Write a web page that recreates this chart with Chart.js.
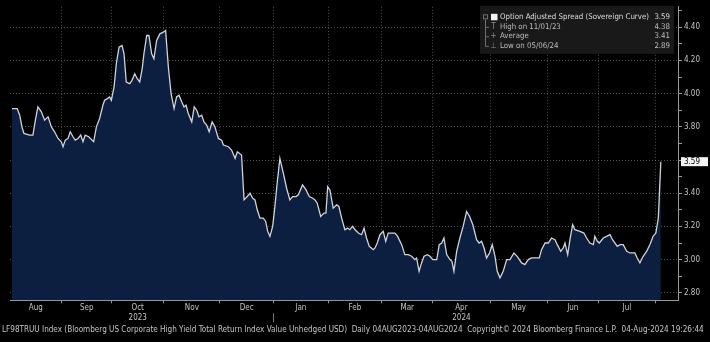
<!DOCTYPE html>
<html>
<head>
<meta charset="utf-8">
<title>LF98TRUU Option Adjusted Spread</title>
<script src="https://cdn.jsdelivr.net/npm/chart.js@4.4.1/dist/chart.umd.min.js"></script>
<style>
  html, body { margin: 0; padding: 0; background: #000; }
  #chart-wrap { width: 710px; height: 342px; }
</style>
</head>
<body>
<div id="chart-wrap"><canvas id="oas-chart" width="710" height="342"></canvas></div>
<script>
// weekdays counted from 04 Aug 2023
const tradingDay = [
  0, 2.1, 3.1, 4.0, 4.8, 7.1, 8.4, 9.4, 10.4, 11.8, 13.1, 14.5, 15.8, 17.1, 18.5, 19.8, 20.5, 21.4, 22.5, 23.4,
  24.5, 25.4, 26.5, 27.6, 28.5, 29.4, 30.8, 32.8, 33.9, 35.2, 36.5, 37.2, 38.3, 39.2, 39.9, 41.0, 41.9, 43.0, 44.2, 45.0,
  45.9, 47.3, 48.2, 49.3, 50.3, 51.3, 52.3, 53.0, 54.1, 55.0, 56.1, 57.0, 58.1, 59.4, 60.8, 61.7, 62.8, 63.9, 65.1, 66.1,
  67.1, 68.2, 69.1, 69.9, 70.8, 72.2, 73.2, 74.2, 75.1, 76.2, 77.1, 78.2, 79.2, 80.4, 81.5, 82.9, 84.2, 84.9, 86.9, 88.2,
  89.6, 90.5, 92.2, 93.2, 94.5, 95.6, 96.7, 97.6, 98.5, 99.6, 100.9, 101.9, 102.7, 103.6, 104.7, 105.6, 106.5, 107.6, 109.0, 110.3,
  111.6, 112.7, 114.1, 115.0, 116.7, 118.1, 119.4, 120.8, 121.7, 122.6, 124.0, 125.3, 126.1, 126.8, 127.7, 129.0, 130.4, 131.3, 132.4, 133.7,
  134.8, 135.7, 136.8, 137.8, 139.1, 140.4, 141.4, 142.4, 143.5, 145.1, 145.8, 146.7, 147.8, 149.1, 150.1, 151.1, 152.5, 153.8, 154.9, 156.5,
  157.8, 159.2, 160.5, 161.8, 162.5, 163.5, 164.5, 165.5, 166.8, 167.9, 169.0, 170.6, 171.6, 172.6, 173.5, 174.6, 175.9, 176.7, 177.5, 178.6,
  179.9, 181.2, 182.6, 183.8, 185.1, 186.6, 187.6, 188.6, 189.6, 190.6, 191.8, 192.9, 194.0, 194.9, 196.0, 197.3, 198.7, 200.0, 201.6, 202.9,
  204.7, 206.0, 207.4, 208.7, 210.0, 211.8, 212.7, 214.1, 215.4, 216.7, 218.1, 219.0, 220.4, 221.4, 222.1, 223.2, 224.1, 225.2, 226.1, 228.1,
  229.7, 230.8, 232.1, 233.5, 234.1, 235.1, 235.9, 237.5, 238.8, 240.2, 241.2, 242.2, 243.1, 244.2, 245.5, 246.9, 248.2, 250.2, 251.1, 252.2,
  253.5, 254.9, 256.2, 257.5, 258.6, 259.6, 260.6
];
const spreadPct = [
  3.91, 3.91, 3.87, 3.80, 3.76, 3.75, 3.75, 3.84, 3.92, 3.89, 3.84, 3.86, 3.80, 3.77, 3.73, 3.71, 3.68, 3.72, 3.73, 3.77,
  3.74, 3.72, 3.73, 3.75, 3.71, 3.75, 3.74, 3.71, 3.80, 3.85, 3.93, 3.96, 3.97, 3.98, 3.96, 4.04, 4.18, 4.28, 4.29, 4.24,
  4.07, 4.06, 4.08, 4.12, 4.09, 4.07, 4.15, 4.24, 4.35, 4.35, 4.24, 4.21, 4.32, 4.36, 4.37, 4.38, 4.16, 4.00, 3.91, 3.98,
  3.99, 3.95, 3.92, 3.93, 3.88, 3.83, 3.92, 3.90, 3.86, 3.87, 3.83, 3.81, 3.77, 3.83, 3.80, 3.73, 3.72, 3.69, 3.68, 3.66,
  3.61, 3.65, 3.63, 3.36, 3.38, 3.40, 3.37, 3.36, 3.30, 3.25, 3.25, 3.23, 3.17, 3.14, 3.20, 3.32, 3.46, 3.61, 3.52, 3.43,
  3.36, 3.38, 3.38, 3.39, 3.45, 3.42, 3.38, 3.37, 3.36, 3.34, 3.26, 3.28, 3.28, 3.44, 3.42, 3.31, 3.33, 3.32, 3.25, 3.18,
  3.19, 3.18, 3.20, 3.18, 3.16, 3.15, 3.19, 3.13, 3.08, 3.06, 3.07, 3.10, 3.15, 3.17, 3.11, 3.16, 3.16, 3.16, 3.14, 3.09,
  3.03, 3.03, 3.02, 3.00, 3.01, 2.93, 2.98, 3.02, 3.03, 3.02, 3.00, 3.00, 3.09, 3.10, 3.13, 3.03, 3.00, 2.99, 2.93, 3.05,
  3.13, 3.20, 3.29, 3.26, 3.21, 3.12, 3.10, 3.11, 3.07, 3.01, 3.04, 3.09, 3.02, 2.93, 2.89, 2.93, 3.00, 3.00, 3.04, 3.02,
  2.98, 2.97, 3.00, 3.01, 3.01, 3.01, 3.06, 3.10, 3.10, 3.13, 3.12, 3.09, 3.05, 3.07, 3.10, 3.03, 3.12, 3.21, 3.18, 3.17,
  3.16, 3.13, 3.10, 3.09, 3.14, 3.11, 3.10, 3.13, 3.14, 3.15, 3.12, 3.10, 3.08, 3.09, 3.09, 3.05, 3.04, 3.04, 3.01, 2.98,
  3.02, 3.05, 3.09, 3.14, 3.16, 3.25, 3.59
];

const monthLabels = ['Aug', 'Sep', 'Oct', 'Nov', 'Dec', 'Jan', 'Feb', 'Mar', 'Apr', 'May', 'Jun', 'Jul'];
// first weekday of Sep 2023 ... Aug 2024
const monthStartDay = [20, 40, 61, 83.5, 105, 127, 148.5, 169, 192, 215, 235.5, 258.5];
const yearLabels = { Oct: '2023', Apr: '2024' };
const yMajorTicks = [2.8, 3.0, 3.2, 3.4, 3.6, 3.8, 4.0, 4.2, 4.4];
const yMinorTicks = [2.9, 3.1, 3.3, 3.5, 3.7, 3.9, 4.1, 4.3, 4.5];

const legendLabels = ['Option Adjusted Spread (Sovereign Curve)', 'High on 11/01/23', 'Average', 'Low on 05/06/24'];
const legendValues = ['3.59', '4.38', '3.41', '2.89'];
const footerText = 'LF98TRUU Index (Bloomberg US Corporate High Yield Total Return Index Value Unhedged USD)  Daily 04AUG2023-04AUG2024  Copyright\u00A9 2024 Bloomberg Finance L.P.  04-Aug-2024 19:26:44';

const FONT = '"Liberation Sans Narrow", "DejaVu Sans Condensed", "Liberation Sans", Arial, sans-serif';
const TEXT = '#c4c4c4';
const GRID = 'rgba(170, 170, 170, 0.45)';
const AXIS = '#9a9a9a';

const lastValue = spreadPct[spreadPct.length - 1];

// legend box, last-value tag and the year divider
const bbgDecor = {
  id: 'bbgDecor',
  afterDraw(chart) {
    const { ctx, chartArea, scales } = chart;
    ctx.save();

    const boxR = chartArea.right - 4;
    const boxL = boxR - 194;
    const boxT = chartArea.top - 1;
    ctx.fillStyle = 'rgba(26, 26, 26, 0.95)';
    ctx.fillRect(boxL, boxT, boxR - boxL, 48);

    const rowY = [15.5, 25, 34.5, 44].map(v => boxT + v - 4);
    const treeX = boxL + 5;
    ctx.strokeStyle = '#6e6e6e';
    ctx.lineWidth = 1;
    ctx.beginPath();
    ctx.moveTo(treeX + 0.5, rowY[0] + 2);
    ctx.lineTo(treeX + 0.5, rowY[3]);
    for (let i = 1; i < 4; i++) {
      ctx.moveTo(treeX, rowY[i] + 0.5);
      ctx.lineTo(treeX + 4, rowY[i] + 0.5);
    }
    ctx.stroke();
    ctx.strokeRect(treeX - 1.5, rowY[0] - 2.5, 4, 4);

    ctx.fillStyle = '#f2f2f2';
    ctx.fillRect(boxL + 11, rowY[0] - 3.5, 6.5, 6.5);

    ctx.font = '8px ' + FONT;
    ctx.textBaseline = 'middle';
    ctx.textAlign = 'center';
    ctx.fillStyle = '#8c8c8c';
    ['T', '+', '\u22A5'].forEach((g, i) => ctx.fillText(g, boxL + 13.5, rowY[i + 1]));

    ctx.font = '7.8px ' + FONT;
    legendLabels.forEach((label, i) => {
      ctx.textAlign = 'left';
      ctx.fillStyle = i === 0 ? '#dcdcdc' : '#bdbdbd';
      ctx.fillText(label, boxL + 20, rowY[i]);
      ctx.textAlign = 'right';
      ctx.fillText(legendValues[i], boxR - 4, rowY[i]);
    });

    // last value tag on the right axis
    const ty = scales.y.getPixelForValue(lastValue);
    const tx = chartArea.right + 3;
    ctx.fillStyle = '#f4f4f4';
    ctx.fillRect(tx, ty - 4.5, 27, 9);
    ctx.fillStyle = '#000';
    ctx.textAlign = 'left';
    ctx.font = '8px ' + FONT;
    ctx.fillText(lastValue.toFixed(2), tx + 3, ty + 0.5);

    // divider between the year labels
    const dx = Math.round(scales.x.getPixelForValue(monthStartDay[4])) + 0.5;
    ctx.strokeStyle = '#777';
    ctx.beginPath();
    ctx.moveTo(dx, chartArea.bottom + 13);
    ctx.lineTo(dx, chartArea.bottom + 22);
    ctx.stroke();

    ctx.restore();
  }
};

const ctx = document.getElementById('oas-chart').getContext('2d');
new Chart(ctx, {
  type: 'line',
  data: {
    datasets: [{
      label: 'Option Adjusted Spread (Sovereign Curve)',
      data: tradingDay.map((d, i) => ({ x: d, y: spreadPct[i] })),
      borderColor: '#cfd3da',
      borderWidth: 1.3,
      backgroundColor: '#0c1f40',
      fill: 'start',
      pointRadius: 0,
      tension: 0
    }]
  },
  options: {
    responsive: false,
    animation: false,
    devicePixelRatio: 1,
    layout: { padding: { left: 2, right: 0, top: 5, bottom: 0 } },
    plugins: {
      legend: { display: false },
      tooltip: { enabled: false },
      subtitle: {
        display: true,
        position: 'bottom',
        align: 'start',
        text: footerText,
        color: TEXT,
        font: { family: FONT, size: 8.1 },
        padding: { top: 0, bottom: 7 }
      }
    },
    scales: {
      x: {
        type: 'linear',
        min: -0.8,
        max: 267.5,
        z: 1,
        afterBuildTicks: axis => {
          const starts = [axis.min, ...monthStartDay];
          const ticks = monthLabels.map((m, i) => ({ value: (starts[i] + starts[i + 1]) / 2, month: m }));
          monthStartDay.forEach(v => ticks.push({ value: v, boundary: true }));
          ticks.sort((a, b) => a.value - b.value);
          axis.ticks = ticks;
        },
        afterFit: axis => { axis.height = 25; },
        ticks: {
          autoSkip: false,
          maxRotation: 0,
          padding: 0,
          color: TEXT,
          font: { family: FONT, size: 8 },
          callback: (value, index, ticks) => {
            const t = ticks[index];
            if (t.boundary) return '';
            return yearLabels[t.month] ? [t.month, yearLabels[t.month]] : t.month;
          }
        },
        grid: {
          color: c => (c.tick && c.tick.boundary ? GRID : 'transparent'),
          tickColor: c => (c.tick && c.tick.boundary ? AXIS : 'transparent'),
          tickLength: 3,
          tickBorderDash: []
        },
        border: { color: AXIS, dash: [1, 2] }
      },
      y: {
        position: 'right',
        min: 2.755,
        max: 4.523,
        z: 1,
        afterBuildTicks: axis => {
          axis.ticks = [...yMajorTicks, ...yMinorTicks].sort((a, b) => a - b).map(v => ({ value: v }));
        },
        afterFit: axis => { axis.width = 32; },
        ticks: {
          padding: 2,
          color: TEXT,
          font: { family: FONT, size: 8 },
          callback: v => (yMajorTicks.includes(v) && Math.abs(v - lastValue) > 0.06 ? v.toFixed(2) : '')
        },
        grid: {
          color: c => (c.tick && yMajorTicks.includes(c.tick.value) ? GRID : 'transparent'),
          tickColor: AXIS,
          tickLength: 4,
          tickBorderDash: []
        },
        border: { color: AXIS, dash: [1, 2] }
      },
      yPad: {
        position: 'left',
        ticks: { display: false },
        grid: { display: false, drawTicks: false },
        border: { display: false },
        afterFit: axis => { axis.width = 8; }
      }
    }
  },
  plugins: [bbgDecor]
});
</script>
</body>
</html>
